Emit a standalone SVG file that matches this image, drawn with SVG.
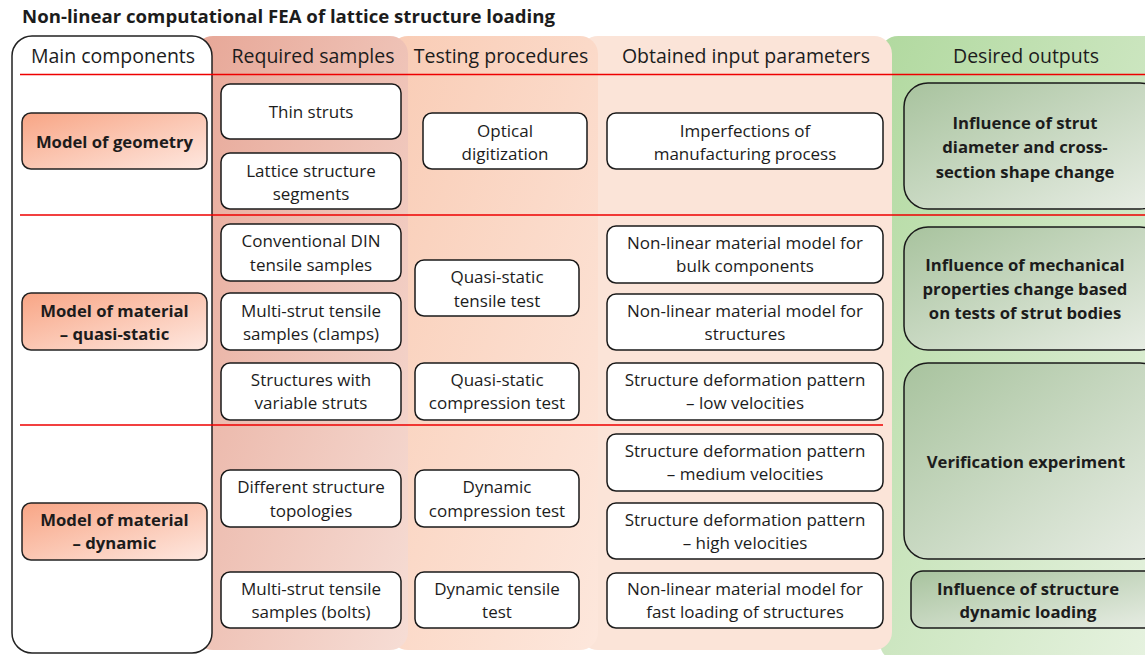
<svg xmlns="http://www.w3.org/2000/svg" width="1145" height="655" viewBox="0 0 1145 655">
<defs>
<linearGradient id="gGreen" x1="0" y1="0" x2="1" y2="1"><stop offset="0" stop-color="#b1d99f"/><stop offset="1" stop-color="#e8f3e2"/></linearGradient>
<linearGradient id="gReq" x1="0" y1="0" x2="1" y2="1"><stop offset="0" stop-color="#e7a797"/><stop offset="1" stop-color="#f6ddd5"/></linearGradient>
<linearGradient id="gTest" x1="0" y1="0" x2="1" y2="1"><stop offset="0" stop-color="#f9ccb5"/><stop offset="1" stop-color="#fde7dc"/></linearGradient>
<linearGradient id="gModel" x1="0" y1="0" x2="1" y2="1"><stop offset="0" stop-color="#f8a585"/><stop offset="1" stop-color="#fee8e0"/></linearGradient>
<linearGradient id="gOut" x1="0" y1="0" x2="1" y2="1"><stop offset="0" stop-color="#a8c39e"/><stop offset="1" stop-color="#e9eee6"/></linearGradient>
</defs>
<style>
text{font-family:"Open Sans","Liberation Sans",sans-serif;fill:#1c1c1c;text-anchor:middle}
.t{font-size:17px}
.h{font-size:19.5px}
.b{font-size:16.7px;font-weight:bold}
.title{font-size:17.5px;font-weight:bold;text-anchor:start}
.box{fill:#fff;stroke:#1a1a1a;stroke-width:1.5}
.model{fill:url(#gModel);stroke:#222;stroke-width:1.5}
.out{fill:url(#gOut);stroke:#1a1a1a;stroke-width:1.5}
.sep{stroke:#ee0000;stroke-width:1.5}
</style>
<rect width="1145" height="655" fill="#fff"/>
<text class="title" x="22" y="23" textLength="533" lengthAdjust="spacingAndGlyphs">Non-linear computational FEA of lattice structure loading</text>

<g id="columns">
<rect x="880" y="36" width="290" height="625" rx="18" fill="url(#gGreen)"/>
<rect x="580" y="36" width="312" height="614" rx="18" fill="#fbe4d8"/>
<rect x="390" y="36" width="208" height="614" rx="18" fill="url(#gTest)"/>
<rect x="195" y="36" width="213" height="614" rx="18" fill="url(#gReq)"/>
<rect x="12" y="36" width="200" height="617" rx="20" fill="#fff" stroke="#222" stroke-width="1.5"/>
</g>

<g id="headers">
<text class="h" x="113" y="63">Main components</text>
<text class="h" x="313" y="63">Required samples</text>
<text class="h" x="501" y="63">Testing procedures</text>
<text class="h" x="746" y="63">Obtained input parameters</text>
<text class="h" x="1026" y="63">Desired outputs</text>
</g>

<g id="separators">
<line class="sep" x1="20" y1="74.5" x2="1145" y2="74.5"/>
<line class="sep" x1="20" y1="215" x2="1145" y2="215"/>
<line class="sep" x1="20" y1="425" x2="883" y2="425"/>
</g>

<g id="model-geometry"><rect class="model" x="22" y="113" width="185" height="56" rx="9"/><text class="b" x="114.5" y="148">Model of geometry</text></g>
<g id="model-quasi"><rect class="model" x="22" y="293" width="185" height="57" rx="9"/><text class="b" x="114.5" y="317">Model of material</text><text class="b" x="114.5" y="340">– quasi-static</text></g>
<g id="model-dynamic"><rect class="model" x="22" y="503" width="185" height="57" rx="9"/><text class="b" x="114.5" y="526">Model of material</text><text class="b" x="114.5" y="549">– dynamic</text></g>

<g id="thin-struts"><rect class="box" x="221" y="84" width="180" height="55" rx="9"/><text class="t" x="311" y="118">Thin struts</text></g>
<g id="lattice-segments"><rect class="box" x="221" y="153" width="180" height="56" rx="9"/><text class="t" x="311" y="177">Lattice structure</text><text class="t" x="311" y="200">segments</text></g>
<g id="din-samples"><rect class="box" x="221" y="224" width="180" height="57" rx="9"/><text class="t" x="311" y="247">Conventional DIN</text><text class="t" x="311" y="271">tensile samples</text></g>
<g id="clamps-samples"><rect class="box" x="221" y="293" width="180" height="57" rx="9"/><text class="t" x="311" y="317">Multi-strut tensile</text><text class="t" x="311" y="340">samples (clamps)</text></g>
<g id="variable-struts"><rect class="box" x="221" y="363" width="180" height="57" rx="9"/><text class="t" x="311" y="386">Structures with</text><text class="t" x="311" y="409">variable struts</text></g>
<g id="topologies"><rect class="box" x="221" y="470" width="180" height="57" rx="9"/><text class="t" x="311" y="493">Different structure</text><text class="t" x="311" y="517">topologies</text></g>
<g id="bolts-samples"><rect class="box" x="221" y="572" width="180" height="56" rx="9"/><text class="t" x="311" y="595">Multi-strut tensile</text><text class="t" x="311" y="618">samples (bolts)</text></g>

<g id="optical"><rect class="box" x="423" y="113" width="164" height="56" rx="9"/><text class="t" x="505" y="137">Optical</text><text class="t" x="505" y="160">digitization</text></g>
<g id="qs-tensile"><rect class="box" x="415" y="260" width="164" height="56" rx="9"/><text class="t" x="497" y="283">Quasi-static</text><text class="t" x="497" y="307">tensile test</text></g>
<g id="qs-compression"><rect class="box" x="415" y="363" width="164" height="57" rx="9"/><text class="t" x="497" y="386">Quasi-static</text><text class="t" x="497" y="409">compression test</text></g>
<g id="dyn-compression"><rect class="box" x="415" y="470" width="164" height="57" rx="9"/><text class="t" x="497" y="493">Dynamic</text><text class="t" x="497" y="517">compression test</text></g>
<g id="dyn-tensile"><rect class="box" x="415" y="572" width="164" height="56" rx="9"/><text class="t" x="497" y="595">Dynamic tensile</text><text class="t" x="497" y="618">test</text></g>

<g id="imperfections"><rect class="box" x="607" y="113" width="276" height="56" rx="9"/><text class="t" x="745" y="137">Imperfections of</text><text class="t" x="745" y="160">manufacturing process</text></g>
<g id="bulk-model"><rect class="box" x="607" y="226" width="276" height="57" rx="9"/><text class="t" x="745" y="249">Non-linear material model for</text><text class="t" x="745" y="272">bulk components</text></g>
<g id="structures-model"><rect class="box" x="607" y="294" width="276" height="56" rx="9"/><text class="t" x="745" y="317">Non-linear material model for</text><text class="t" x="745" y="340">structures</text></g>
<g id="low-velocities"><rect class="box" x="607" y="363" width="276" height="57" rx="9"/><text class="t" x="745" y="386">Structure deformation pattern</text><text class="t" x="745" y="409">– low velocities</text></g>
<g id="medium-velocities"><rect class="box" x="607" y="434" width="276" height="57" rx="9"/><text class="t" x="745" y="457">Structure deformation pattern</text><text class="t" x="745" y="480">– medium velocities</text></g>
<g id="high-velocities"><rect class="box" x="607" y="503" width="276" height="56" rx="9"/><text class="t" x="745" y="526">Structure deformation pattern</text><text class="t" x="745" y="549">– high velocities</text></g>
<g id="fast-loading"><rect class="box" x="607" y="573" width="276" height="55" rx="9"/><text class="t" x="745" y="595">Non-linear material model for</text><text class="t" x="745" y="618">fast loading of structures</text></g>

<g id="out-diameter"><rect class="out" x="904" y="83" width="260" height="126" rx="24"/><text class="b" x="1025" y="129">Influence of strut</text><text class="b" x="1025" y="153">diameter and cross-</text><text class="b" x="1025" y="178">section shape change</text></g>
<g id="out-mechanical"><rect class="out" x="904" y="227" width="260" height="123" rx="24"/><text class="b" x="1025" y="271">Influence of mechanical</text><text class="b" x="1025" y="295">properties change based</text><text class="b" x="1025" y="319">on tests of strut bodies</text></g>
<g id="out-verification"><rect class="out" x="904" y="363" width="260" height="196" rx="24"/><text class="b" x="1026" y="468">Verification experiment</text></g>
<g id="out-dynamic"><rect class="out" x="911" y="571" width="260" height="57" rx="12"/><text class="b" x="1028" y="595">Influence of structure</text><text class="b" x="1028" y="618">dynamic loading</text></g>
</svg>
